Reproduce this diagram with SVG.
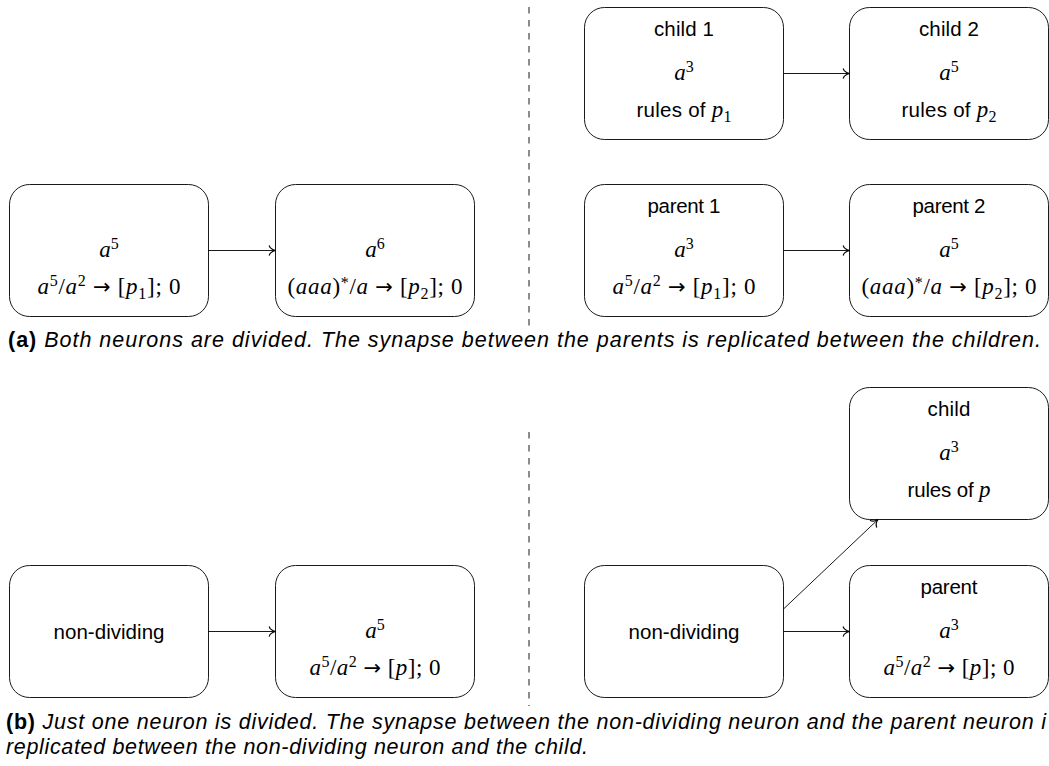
<svg xmlns="http://www.w3.org/2000/svg" width="1049" height="766" viewBox="0 0 1049 766">
  <defs>
    <style>
      .box { fill: #fff; stroke: #000; stroke-width: 0.9; }
      .edge { fill: none; stroke: #000; stroke-width: 0.9; marker-end: url(#to); }
      .sep { fill: none; stroke: #000; stroke-width: 0.9; stroke-dasharray: 6.5 6.5; }
      .lbl { font-family: "Liberation Sans", Arial, sans-serif; font-size: 20.5px; fill: #000; text-anchor: middle; }
      .math { font-family: "Liberation Serif", "Times New Roman", serif; font-size: 23px; fill: #000; text-anchor: middle; }
      .mi { font-style: italic; }
      .s { font-size: 16px; }
      .arr { font-family: "DejaVu Sans", sans-serif; font-size: 21px; }
      .cap { font-family: "Liberation Sans", Arial, sans-serif; font-size: 21.5px; fill: #000; font-style: italic; }
      .capb { font-style: normal; font-weight: bold; }
    </style>
    <!-- curved-barb arrow tip, in user units -->
    <marker id="to" viewBox="-8 -6 9 12" refX="0" refY="0" markerWidth="9" markerHeight="12" markerUnits="userSpaceOnUse" orient="auto">
      <path d="M-6.2,-4.6 C-5.3,-1.8 -2,-0.5 0,0 C-2,0.5 -5.3,1.8 -6.2,4.6" fill="none" stroke="#000" stroke-width="1.2" stroke-linecap="round"/>
    </marker>
  </defs>

  <!-- separators between "before" and "after" halves -->
  <g id="separators">
    <line class="sep" x1="529" y1="7" x2="529" y2="327"/>
    <line class="sep" x1="529" y1="432" x2="529" y2="706"/>
  </g>

  <!-- (a) before division -->
  <g id="a-n1">
    <rect class="box" x="9.5" y="184.5" width="199" height="132" rx="20"/>
    <text class="math" x="109" y="257"><tspan class="mi">a</tspan><tspan class="s" dy="-8">5</tspan></text>
    <text class="math" x="109" y="294" textLength="143"><tspan class="mi">a</tspan><tspan class="s" dy="-8">5</tspan><tspan dy="8">/</tspan><tspan class="mi">a</tspan><tspan class="s" dy="-8">2</tspan><tspan dy="8"> </tspan><tspan class="arr">→</tspan> [<tspan class="mi">p</tspan><tspan class="s" dy="4.5">1</tspan><tspan dy="-4.5">]; 0</tspan></text>
  </g>
  <g id="a-n2">
    <rect class="box" x="275.5" y="184.5" width="199" height="132" rx="20"/>
    <text class="math" x="375" y="257"><tspan class="mi">a</tspan><tspan class="s" dy="-8">6</tspan></text>
    <text class="math" x="375" y="294" textLength="175">(<tspan class="mi">aaa</tspan>)<tspan class="s" dy="-6">*</tspan><tspan dy="6">/</tspan><tspan class="mi">a</tspan> <tspan class="arr">→</tspan> [<tspan class="mi">p</tspan><tspan class="s" dy="4.5">2</tspan><tspan dy="-4.5">]; 0</tspan></text>
  </g>

  <!-- (a) after division -->
  <g id="a-child1">
    <rect class="box" x="584.5" y="7.5" width="199" height="132" rx="20"/>
    <text class="lbl" x="684" y="35.5" textLength="60">child 1</text>
    <text class="math" x="684" y="80"><tspan class="mi">a</tspan><tspan class="s" dy="-8">3</tspan></text>
    <text class="lbl" x="684" y="117" textLength="95">rules of <tspan class="math mi">p</tspan><tspan class="math s" dy="4.5">1</tspan></text>
  </g>
  <g id="a-child2">
    <rect class="box" x="849.5" y="7.5" width="199" height="132" rx="20"/>
    <text class="lbl" x="949" y="35.5" textLength="60">child 2</text>
    <text class="math" x="949" y="80"><tspan class="mi">a</tspan><tspan class="s" dy="-8">5</tspan></text>
    <text class="lbl" x="949" y="117" textLength="95">rules of <tspan class="math mi">p</tspan><tspan class="math s" dy="4.5">2</tspan></text>
  </g>
  <g id="a-parent1">
    <rect class="box" x="584.5" y="184.5" width="199" height="132" rx="20"/>
    <text class="lbl" x="684" y="212.5" textLength="73">parent 1</text>
    <text class="math" x="684" y="257"><tspan class="mi">a</tspan><tspan class="s" dy="-8">3</tspan></text>
    <text class="math" x="684" y="294" textLength="143"><tspan class="mi">a</tspan><tspan class="s" dy="-8">5</tspan><tspan dy="8">/</tspan><tspan class="mi">a</tspan><tspan class="s" dy="-8">2</tspan><tspan dy="8"> </tspan><tspan class="arr">→</tspan> [<tspan class="mi">p</tspan><tspan class="s" dy="4.5">1</tspan><tspan dy="-4.5">]; 0</tspan></text>
  </g>
  <g id="a-parent2">
    <rect class="box" x="849.5" y="184.5" width="199" height="132" rx="20"/>
    <text class="lbl" x="949" y="212.5" textLength="73">parent 2</text>
    <text class="math" x="949" y="257"><tspan class="mi">a</tspan><tspan class="s" dy="-8">5</tspan></text>
    <text class="math" x="949" y="294" textLength="175">(<tspan class="mi">aaa</tspan>)<tspan class="s" dy="-6">*</tspan><tspan dy="6">/</tspan><tspan class="mi">a</tspan> <tspan class="arr">→</tspan> [<tspan class="mi">p</tspan><tspan class="s" dy="4.5">2</tspan><tspan dy="-4.5">]; 0</tspan></text>
  </g>

  <!-- (b) before division -->
  <g id="b-nd1">
    <rect class="box" x="9.5" y="565.5" width="199" height="132" rx="20"/>
    <text class="lbl" x="109" y="638.5" textLength="111">non-dividing</text>
  </g>
  <g id="b-n2">
    <rect class="box" x="275.5" y="565.5" width="199" height="132" rx="20"/>
    <text class="math" x="375" y="638"><tspan class="mi">a</tspan><tspan class="s" dy="-8">5</tspan></text>
    <text class="math" x="375" y="675" textLength="131"><tspan class="mi">a</tspan><tspan class="s" dy="-8">5</tspan><tspan dy="8">/</tspan><tspan class="mi">a</tspan><tspan class="s" dy="-8">2</tspan><tspan dy="8"> </tspan><tspan class="arr">→</tspan> [<tspan class="mi">p</tspan>]; 0</text>
  </g>

  <!-- (b) after division -->
  <g id="b-nd2">
    <rect class="box" x="584.5" y="565.5" width="199" height="132" rx="20"/>
    <text class="lbl" x="684" y="638.5" textLength="111">non-dividing</text>
  </g>
  <g id="b-child">
    <rect class="box" x="849.5" y="387.5" width="199" height="132" rx="20"/>
    <text class="lbl" x="949" y="415.5" textLength="43">child</text>
    <text class="math" x="949" y="460"><tspan class="mi">a</tspan><tspan class="s" dy="-8">3</tspan></text>
    <text class="lbl" x="949" y="497" textLength="83">rules of <tspan class="math mi">p</tspan></text>
  </g>
  <g id="b-parent">
    <rect class="box" x="849.5" y="565.5" width="199" height="132" rx="20"/>
    <text class="lbl" x="949" y="593.5" textLength="57">parent</text>
    <text class="math" x="949" y="638"><tspan class="mi">a</tspan><tspan class="s" dy="-8">3</tspan></text>
    <text class="math" x="949" y="675" textLength="131"><tspan class="mi">a</tspan><tspan class="s" dy="-8">5</tspan><tspan dy="8">/</tspan><tspan class="mi">a</tspan><tspan class="s" dy="-8">2</tspan><tspan dy="8"> </tspan><tspan class="arr">→</tspan> [<tspan class="mi">p</tspan>]; 0</text>
  </g>

  <!-- synapses -->
  <g id="connectors">
    <path class="edge" d="M208.5,250.5 H275.5"/>
    <path class="edge" d="M783.5,73.5 H849.5"/>
    <path class="edge" d="M783.5,250.5 H849.5"/>
    <path class="edge" d="M208.5,631.5 H275.5"/>
    <path class="edge" d="M783.5,631.5 H849.5"/>
    <path class="edge" d="M783.5,609 L878,519.5"/>
  </g>

  <!-- captions -->
  <g id="captions">
    <text class="cap" x="8" y="347" textLength="1033"><tspan class="capb">(a)</tspan> Both neurons are divided.  The synapse between the parents is replicated between the children.</text>
    <text class="cap" x="6" y="729" textLength="1040"><tspan class="capb">(b)</tspan> Just one neuron is divided.  The synapse between the non-dividing neuron and the parent neuron i</text>
    <text class="cap" x="6" y="754" textLength="582">replicated between the non-dividing neuron and the child.</text>
  </g>
</svg>
